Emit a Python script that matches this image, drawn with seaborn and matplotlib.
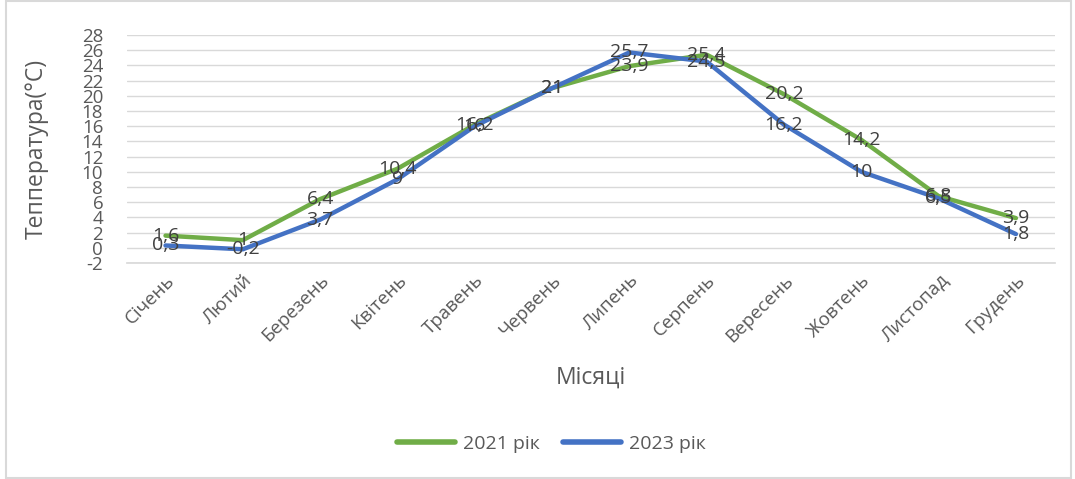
import matplotlib
matplotlib.use("Agg")
import matplotlib.pyplot as plt
import seaborn as sns
import pandas as pd
from matplotlib.patches import Rectangle

months = ["Січень", "Лютий", "Березень", "Квітень", "Травень", "Червень",
          "Липень", "Серпень", "Вересень", "Жовтень", "Листопад", "Грудень"]
t2021 = [1.6, 1, 6.4, 10.4, 16.2, 21, 23.9, 25.4, 20.2, 14.2, 6.8, 3.9]
t2023 = [0.3, -0.2, 3.7, 9, 16, 21, 25.7, 24.5, 16.2, 10, 6.5, 1.8]
series_names = ["2021 рік", "2023 рік"]
yticks = list(range(-2, 29, 2))

sns.set_theme(style="white")
plt.rcParams['font.family'] = ['Open Sans', 'DejaVu Sans']

df = pd.DataFrame({
    "Місяць": months * 2,
    "Температура": t2021 + t2023,
    "Серія": [series_names[0]] * 12 + [series_names[1]] * 12,
})

fig = plt.figure(figsize=(10.75, 4.79), dpi=100)
ax = fig.add_axes([0.118, 0.451, 0.863, 0.476])

palette = {series_names[0]: "#70AD47", series_names[1]: "#4472C4"}
sns.lineplot(data=df, x="Місяць", y="Температура", hue="Серія", hue_order=series_names,
             palette=palette, sort=False, linewidth=3.2, ax=ax, legend=True,
             solid_capstyle="round")

def fmt(v):
    s = f"{v:g}"
    return s.replace(".", ",")

for vals in (t2021, t2023):
    for i, v in enumerate(vals):
        ax.text(i, v, fmt(v), ha="center", va="center", fontsize=14,
                color="#404040", zorder=5)

for s in ["top", "right", "left"]:
    ax.spines[s].set_visible(False)
ax.spines["bottom"].set_color("#d9d9d9")

ax.tick_params(axis="both", length=0)
ax.tick_params(axis="x", pad=6)
ax.tick_params(axis="y", pad=17)
ax.set_xlim(-0.5, 11.5)
ax.set_ylim(-2, 28)
ax.set_yticks(yticks)
ax.set_yticklabels([str(t) for t in yticks], fontsize=13.5, color="#595959")
ax.set_xticks(range(12))
ax.set_xticklabels(months, fontsize=13.5, color="#595959", rotation=45,
                   ha="right", va="top", rotation_mode="anchor")
ax.grid(axis="y", color="#d9d9d9", linewidth=1)
ax.set_axisbelow(True)

ax.set_xlabel("Місяці", fontsize=16.5, color="#595959", labelpad=14)
ax.set_ylabel("Теппература(°C)", fontsize=16.5, color="#595959", labelpad=24)

handles, labels = ax.get_legend_handles_labels()
ax.get_legend().remove()
leg = fig.legend(handles, labels, loc="center", bbox_to_anchor=(0.513, 0.073),
                 ncol=2, frameon=False, fontsize=14, handlelength=3.0,
                 columnspacing=1.2, handletextpad=0.4)
for t in leg.get_texts():
    t.set_color("#595959")
for l in leg.get_lines():
    l.set_linewidth(4)
    l.set_solid_capstyle("round")

fig.patches.append(Rectangle((0.006, 0.003), 0.99, 0.994, transform=fig.transFigure,
                             fill=False, edgecolor="#d9d9d9", linewidth=1.5))

fig.savefig("out.png", dpi=100)
